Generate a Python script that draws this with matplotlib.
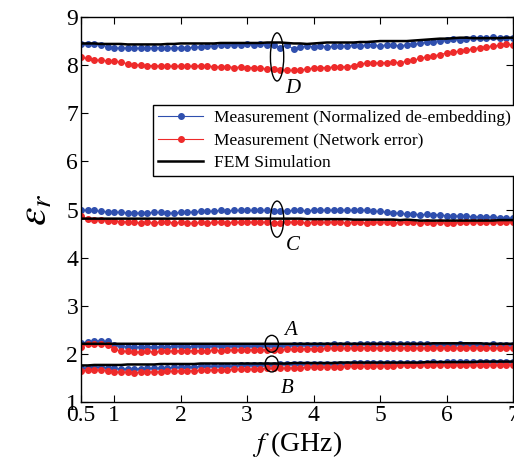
import matplotlib.pyplot as plt
import numpy as np
from matplotlib.patches import Ellipse

plt.rcParams['font.family'] = ['Liberation Serif', 'DejaVu Serif']
plt.rcParams['mathtext.fontset'] = 'stix'

# frequency sweep 0.5 .. 7.0 GHz, 0.1 GHz step
freq = np.round(np.linspace(0.5, 7.0, 66), 2)

# sample D
d_norm = [8.43, 8.43, 8.44, 8.42, 8.38, 8.36, 8.35, 8.36, 8.35, 8.35,
          8.35, 8.36, 8.36, 8.35, 8.36, 8.36, 8.36, 8.37, 8.38, 8.39,
          8.40, 8.41, 8.41, 8.42, 8.42, 8.43, 8.42, 8.44, 8.41, 8.42,
          8.36, 8.42, 8.33, 8.38, 8.40, 8.38, 8.40, 8.38, 8.39, 8.39,
          8.40, 8.41, 8.40, 8.42, 8.41, 8.40, 8.42, 8.41, 8.40, 8.42,
          8.43, 8.45, 8.47, 8.49, 8.51, 8.52, 8.54, 8.53, 8.55, 8.56,
          8.57, 8.56, 8.58, 8.57, 8.57, 8.56]
d_net = [8.16, 8.14, 8.11, 8.10, 8.09, 8.08, 8.06, 8.03, 8.01, 8.00,
         7.99, 7.99, 7.98, 7.98, 7.98, 7.98, 7.98, 7.98, 7.99, 7.98,
         7.97, 7.96, 7.97, 7.95, 7.96, 7.95, 7.95, 7.93, 7.92, 7.91,
         7.90, 7.89, 7.89, 7.90, 7.92, 7.94, 7.95, 7.95, 7.96, 7.96,
         7.97, 7.99, 8.03, 8.04, 8.04, 8.05, 8.05, 8.06, 8.05, 8.08,
         8.10, 8.14, 8.17, 8.19, 8.22, 8.25, 8.27, 8.29, 8.31, 8.34,
         8.36, 8.38, 8.40, 8.41, 8.43, 8.42]
d_fem = [8.45, 8.45, 8.45, 8.44, 8.44, 8.44, 8.44, 8.43, 8.43, 8.43,
         8.43, 8.43, 8.43, 8.44, 8.44, 8.45, 8.45, 8.45, 8.45, 8.45,
         8.45, 8.46, 8.46, 8.46, 8.46, 8.46, 8.46, 8.46, 8.47, 8.47,
         8.47, 8.46, 8.45, 8.45, 8.44, 8.45, 8.46, 8.47, 8.47, 8.47,
         8.47, 8.47, 8.48, 8.48, 8.49, 8.50, 8.50, 8.50, 8.50, 8.50,
         8.51, 8.52, 8.53, 8.54, 8.55, 8.55, 8.56, 8.57, 8.57, 8.56,
         8.56, 8.56, 8.56, 8.56, 8.57, 8.57]

# sample C
c_norm = [4.99, 4.98, 4.98, 4.96, 4.95, 4.95, 4.94, 4.93, 4.92, 4.93,
          4.93, 4.94, 4.94, 4.93, 4.92, 4.94, 4.94, 4.95, 4.96, 4.96,
          4.97, 4.98, 4.97, 4.98, 4.98, 4.98, 4.98, 4.98, 4.98, 4.97,
          4.96, 4.97, 4.98, 4.98, 4.97, 4.99, 4.99, 4.98, 4.99, 4.98,
          4.99, 4.98, 4.99, 4.98, 4.96, 4.96, 4.94, 4.92, 4.93, 4.90,
          4.91, 4.89, 4.90, 4.89, 4.89, 4.87, 4.87, 4.86, 4.86, 4.85,
          4.85, 4.84, 4.85, 4.83, 4.82, 4.82]
c_net = [4.86, 4.80, 4.79, 4.78, 4.77, 4.76, 4.75, 4.74, 4.73, 4.72,
         4.73, 4.72, 4.74, 4.74, 4.72, 4.73, 4.72, 4.71, 4.73, 4.72,
         4.73, 4.74, 4.72, 4.74, 4.73, 4.74, 4.73, 4.73, 4.74, 4.72,
         4.72, 4.73, 4.74, 4.73, 4.72, 4.74, 4.73, 4.73, 4.74, 4.73,
         4.72, 4.74, 4.73, 4.72, 4.73, 4.74, 4.73, 4.72, 4.73, 4.74,
         4.73, 4.72, 4.73, 4.72, 4.73, 4.72, 4.72, 4.74, 4.74, 4.73,
         4.74, 4.75, 4.75, 4.74, 4.74, 4.74]
c_fem = [4.81, 4.81, 4.81, 4.81, 4.81, 4.81, 4.81, 4.81, 4.81, 4.81,
         4.81, 4.81, 4.81, 4.81, 4.81, 4.81, 4.81, 4.81, 4.81, 4.81,
         4.81, 4.81, 4.81, 4.81, 4.81, 4.81, 4.81, 4.81, 4.81, 4.81,
         4.81, 4.81, 4.81, 4.81, 4.80, 4.80, 4.80, 4.80, 4.80, 4.80,
         4.80, 4.79, 4.79, 4.79, 4.79, 4.79, 4.79, 4.79, 4.78, 4.79,
         4.78, 4.77, 4.77, 4.77, 4.77, 4.77, 4.77, 4.77, 4.77, 4.77,
         4.77, 4.77, 4.77, 4.78, 4.78, 4.78]

# sample A
a_norm = [2.22, 2.25, 2.27, 2.27, 2.26, 2.18, 2.16, 2.15, 2.14, 2.14,
          2.15, 2.14, 2.15, 2.15, 2.16, 2.16, 2.15, 2.16, 2.17, 2.16,
          2.16, 2.17, 2.17, 2.16, 2.17, 2.17, 2.16, 2.17, 2.17, 2.17,
          2.17, 2.17, 2.18, 2.18, 2.18, 2.18, 2.19, 2.19, 2.20, 2.19,
          2.20, 2.19, 2.20, 2.20, 2.21, 2.20, 2.21, 2.20, 2.20, 2.21,
          2.20, 2.20, 2.20, 2.19, 2.19, 2.19, 2.19, 2.20, 2.19, 2.19,
          2.19, 2.19, 2.20, 2.19, 2.19, 2.19]
a_net = [2.15, 2.20, 2.21, 2.20, 2.19, 2.10, 2.06, 2.05, 2.04, 2.04,
         2.05, 2.04, 2.05, 2.06, 2.06, 2.07, 2.06, 2.07, 2.07, 2.07,
         2.08, 2.07, 2.08, 2.08, 2.08, 2.09, 2.08, 2.09, 2.09, 2.09,
         2.09, 2.10, 2.10, 2.10, 2.11, 2.11, 2.11, 2.12, 2.12, 2.12,
         2.12, 2.12, 2.13, 2.13, 2.13, 2.12, 2.13, 2.13, 2.13, 2.13,
         2.13, 2.12, 2.13, 2.13, 2.13, 2.13, 2.13, 2.12, 2.13, 2.13,
         2.13, 2.13, 2.12, 2.13, 2.13, 2.13]
a_fem = [2.21, 2.21, 2.21, 2.21, 2.21, 2.21, 2.21, 2.21, 2.21, 2.21,
         2.21, 2.21, 2.21, 2.21, 2.21, 2.21, 2.21, 2.21, 2.21, 2.21,
         2.21, 2.21, 2.21, 2.21, 2.21, 2.21, 2.21, 2.21, 2.21, 2.21,
         2.21, 2.21, 2.21, 2.21, 2.21, 2.21, 2.21, 2.21, 2.21, 2.21,
         2.21, 2.21, 2.21, 2.21, 2.21, 2.21, 2.21, 2.21, 2.21, 2.21,
         2.21, 2.21, 2.21, 2.22, 2.22, 2.22, 2.22, 2.22, 2.22, 2.22,
         2.22, 2.21, 2.21, 2.21, 2.21, 2.21]

# sample B
b_norm = [1.70, 1.71, 1.72, 1.72, 1.71, 1.70, 1.69, 1.69, 1.69, 1.69,
          1.70, 1.70, 1.71, 1.71, 1.72, 1.72, 1.73, 1.73, 1.74, 1.74,
          1.74, 1.75, 1.75, 1.75, 1.76, 1.76, 1.76, 1.77, 1.77, 1.77,
          1.78, 1.78, 1.78, 1.78, 1.79, 1.79, 1.79, 1.79, 1.80, 1.80,
          1.80, 1.81, 1.81, 1.81, 1.81, 1.82, 1.81, 1.82, 1.82, 1.82,
          1.82, 1.82, 1.82, 1.83, 1.82, 1.83, 1.83, 1.83, 1.83, 1.83,
          1.83, 1.83, 1.83, 1.83, 1.83, 1.83]
b_net = [1.65, 1.66, 1.67, 1.66, 1.65, 1.63, 1.62, 1.62, 1.61, 1.62,
         1.62, 1.63, 1.63, 1.64, 1.64, 1.65, 1.65, 1.65, 1.66, 1.66,
         1.67, 1.67, 1.67, 1.68, 1.68, 1.68, 1.69, 1.69, 1.70, 1.70,
         1.70, 1.71, 1.71, 1.71, 1.72, 1.72, 1.72, 1.73, 1.73, 1.73,
         1.74, 1.74, 1.74, 1.74, 1.75, 1.75, 1.75, 1.75, 1.76, 1.76,
         1.76, 1.76, 1.76, 1.76, 1.77, 1.77, 1.77, 1.77, 1.77, 1.77,
         1.77, 1.77, 1.77, 1.77, 1.77, 1.77]
b_fem = [1.76, 1.76, 1.77, 1.77, 1.77, 1.77, 1.77, 1.78, 1.78, 1.78,
         1.78, 1.78, 1.79, 1.79, 1.79, 1.79, 1.79, 1.79, 1.80, 1.80,
         1.80, 1.80, 1.80, 1.80, 1.80, 1.80, 1.80, 1.80, 1.80, 1.80,
         1.80, 1.80, 1.81, 1.81, 1.81, 1.81, 1.81, 1.81, 1.81, 1.82,
         1.82, 1.82, 1.82, 1.82, 1.82, 1.82, 1.82, 1.82, 1.82, 1.82,
         1.82, 1.82, 1.83, 1.83, 1.83, 1.83, 1.83, 1.83, 1.83, 1.83,
         1.84, 1.84, 1.84, 1.84, 1.84, 1.84]

# ellipse marks and sample labels
marks = [('D', 3.45, 8.17, 1.00, 3.69, 7.52),
         ('C', 3.45, 4.80, 0.75, 3.69, 4.26),
         ('A', 3.37, 2.21, 0.35, 3.65, 2.49),
         ('B', 3.37, 1.79, 0.33, 3.60, 1.29)]

blue = '#2f4fae'
red = '#ee2a2a'

fig = plt.figure(figsize=(5.14, 4.68), dpi=100)
ax = fig.add_axes([0.1576, 0.141, 0.8405, 0.8227])

groups = [(d_norm, d_net, d_fem), (c_norm, c_net, c_fem),
          (a_norm, a_net, a_fem), (b_norm, b_net, b_fem)]
for i, (yn, ye, yf) in enumerate(groups):
    ax.plot(freq, yn, '-o', color=blue, lw=0.8, ms=4.0,
            label='Measurement (Normalized de-embedding)' if i == 0 else None)
    ax.plot(freq, ye, '-o', color=red, lw=0.8, ms=4.0,
            label='Measurement (Network error)' if i == 0 else None)
    ax.plot(freq, yf, '-', color='black', lw=1.8,
            label='FEM Simulation' if i == 0 else None)

for name, xc, yc, h, xt, yt in marks:
    ax.add_patch(Ellipse((xc, yc), 0.2, h, fill=False, ec='black', lw=1.0, zorder=5))
    ax.text(xt, yt, name, fontsize=15, style='italic', ha='center', va='center')

ax.set_xlim(0.5, 7)
ax.set_ylim(1, 9)
ax.set_xticks([0.5, 1, 2, 3, 4, 5, 6, 7])
ax.set_xticklabels(['0.5', '1', '2', '3', '4', '5', '6', '7'])
ax.set_yticks(range(1, 10))
ax.tick_params(direction='in', top=True, right=True, length=5, labelsize=17, pad=2)
for s in ax.spines.values():
    s.set_linewidth(1.0)

ax.set_xlabel(r'$f\ $(GHz)', fontsize=20, labelpad=2)
ax.set_ylabel(r'$\varepsilon_r$', fontsize=30, labelpad=8)

leg = ax.legend(loc='upper left', bbox_to_anchor=(153 / 514, 1 - 105 / 468),
                bbox_transform=fig.transFigure, fontsize=12.5, numpoints=1,
                fancybox=False, framealpha=1, edgecolor='black',
                handlelength=2.6, borderpad=0.3, labelspacing=0.35,
                handletextpad=0.6, borderaxespad=0)
leg.get_frame().set_linewidth(1.0)

fig.savefig('out.png', dpi=100)
